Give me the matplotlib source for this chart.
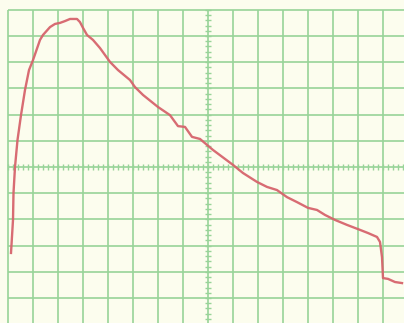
import numpy as np
import matplotlib.pyplot as plt

# trace, in screen divisions (x from left edge, y from centre line)
trace_x = [0.12, 0.20, 0.22, 0.28, 0.38, 0.52, 0.68, 0.84, 1.00, 1.28, 1.40, 1.68,
           1.88, 2.08, 2.28, 2.48, 2.76, 2.88, 3.00, 3.16, 3.40, 3.68, 4.08, 4.40,
           4.88, 5.08, 5.40, 6.00, 6.48, 6.80, 7.08, 7.36, 7.68, 8.20, 9.00, 9.40,
           9.96, 10.36, 10.76, 11.16, 11.56, 12.00, 12.36, 12.68, 13.08, 13.56,
           14.08, 14.40, 14.76, 14.88, 14.96, 15.00, 15.20, 15.48, 15.76]
trace_y = [-3.28, -2.02, -0.99, 0.00, 1.03, 1.98, 2.94, 3.70, 4.08, 4.85, 5.04, 5.34,
           5.46, 5.50, 5.57, 5.65, 5.65, 5.53, 5.31, 5.04, 4.85, 4.54, 4.01, 3.70,
           3.32, 3.05, 2.75, 2.29, 1.98, 1.56, 1.53, 1.15, 1.07, 0.65, 0.08, -0.23,
           -0.57, -0.76, -0.88, -1.15, -1.34, -1.56, -1.64, -1.83, -2.02, -2.21,
           -2.40, -2.52, -2.67, -2.86, -3.44, -4.24, -4.27, -4.39, -4.43]

x0, x1 = -0.32, 15.84
y0, y1 = -5.954, 6.374
bg = '#fcfdee'
grid_col = '#98d498'

fig = plt.figure(figsize=(4.04, 3.23), dpi=100)
fig.patch.set_facecolor(bg)
ax = fig.add_axes([0, 0, 1, 1])
ax.set_facecolor(bg)
ax.set_xlim(x0, x1)
ax.set_ylim(y0, y1)
ax.axis('off')

# graticule
ax.vlines(np.arange(0, 16), y0, 6, color=grid_col, lw=1.2)
ax.hlines(np.arange(-5, 7), 0, x1, color=grid_col, lw=1.2)

# minor ticks on the centre lines
tx = np.arange(0, 15.9, 0.2)
ax.vlines(tx, -0.12, 0.12, color=grid_col, lw=1.0)
ty = np.arange(-5.8, 6.01, 0.2)
ax.hlines(ty, 7.88, 8.12, color=grid_col, lw=1.0)

ax.plot(trace_x, trace_y, color='#d6646c', lw=1.7, alpha=0.95)

fig.savefig('out.png', dpi=100, facecolor=fig.get_facecolor())
